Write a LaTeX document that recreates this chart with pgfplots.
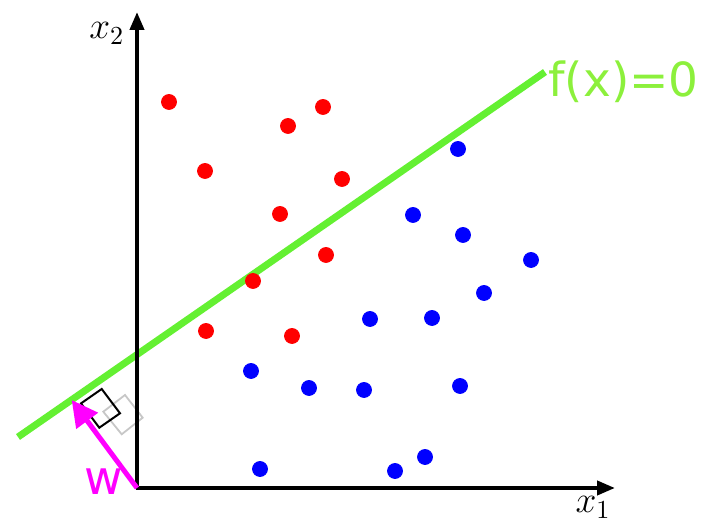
\documentclass[border=0pt]{standalone}
\usepackage{pgfplots}
\pgfplotsset{compat=1.18}
\usepackage{fontspec}
\setmainfont{DejaVu Sans}
\usetikzlibrary{arrows.meta}

\definecolor{sepgreen}{RGB}{100,240,50}
\definecolor{labgreen}{RGB}{140,240,60}
\definecolor{wmag}{RGB}{255,0,255}

\begin{document}
\begin{tikzpicture}
\begin{axis}[
  name=ax,
  x=0.5pt, y=0.5pt,
  xmin=-137, xmax=574, ymin=-35, ymax=488,
  hide axis, clip=false,
]
% class +1 (red) and class -1 (blue) samples
\addplot[only marks, mark=*, mark size=3.75pt, color=red, mark options={draw=none, fill=red}]
  coordinates {(32,386) (151,362) (186,381) (68,317) (205,309)
               (143,274) (189,233) (116,207) (69,157) (155,152)};
\addplot[only marks, mark=*, mark size=3.75pt, color=blue, mark options={draw=none, fill=blue}]
  coordinates {(321,339) (276,273) (326,253) (394,228) (347,195)
               (233,169) (295,170) (114,117) (172,100) (227,98)
               (323,102) (123,19) (258,17) (288,31)};

% right-angle markers
\draw[black!22, line width=0.9pt] (axis cs:-12,93) -- (axis cs:5.7,70.3)
  -- (axis cs:-15.3,53.7) -- (axis cs:-33.7,76.3) -- cycle;
\draw[black, line width=1pt] (axis cs:-35.3,99) -- (axis cs:-17,74.7)
  -- (axis cs:-37.7,60.3) -- (axis cs:-56,84.6) -- cycle;

% decision boundary f(x)=0
\addplot[sepgreen, line width=3.5pt, line cap=butt] coordinates {(-119,51) (408,416)};
\node[anchor=base west, text=labgreen, font=\fontsize{23.5}{28}\selectfont, inner sep=0pt]
  at (axis cs:411,391) {f(x)=0};

% coordinate axes
\draw[line width=2pt, -{Triangle[length=9pt 0 0, width=7pt 0 0]}] (axis cs:-1,0) -- (axis cs:478,0);
\draw[line width=2pt, -{Triangle[length=9pt 0 0, width=7pt 0 0]}] (axis cs:0,-1) -- (axis cs:0,476);
\node[anchor=base east, inner sep=0pt, font=\Large, scale=1.3] at (axis cs:-12,449) {$x_2$};
\node[anchor=base west, inner sep=0pt, font=\Large, scale=1.3] at (axis cs:438,-25) {$x_1$};

% normal vector w
\addplot[wmag, line width=2.5pt, -{Triangle[length=13pt 0 0, width=13pt 0 0]}]
  coordinates {(0,0) (-65.3,88)};
\node[anchor=base west, text=wmag, font=\fontsize{23.5}{28}\selectfont, inner sep=0pt]
  at (axis cs:-53,-7) {w};
\end{axis}
\pgfresetboundingbox
\path[use as bounding box] (ax.south west) rectangle (ax.north east);
\end{tikzpicture}
\end{document}
